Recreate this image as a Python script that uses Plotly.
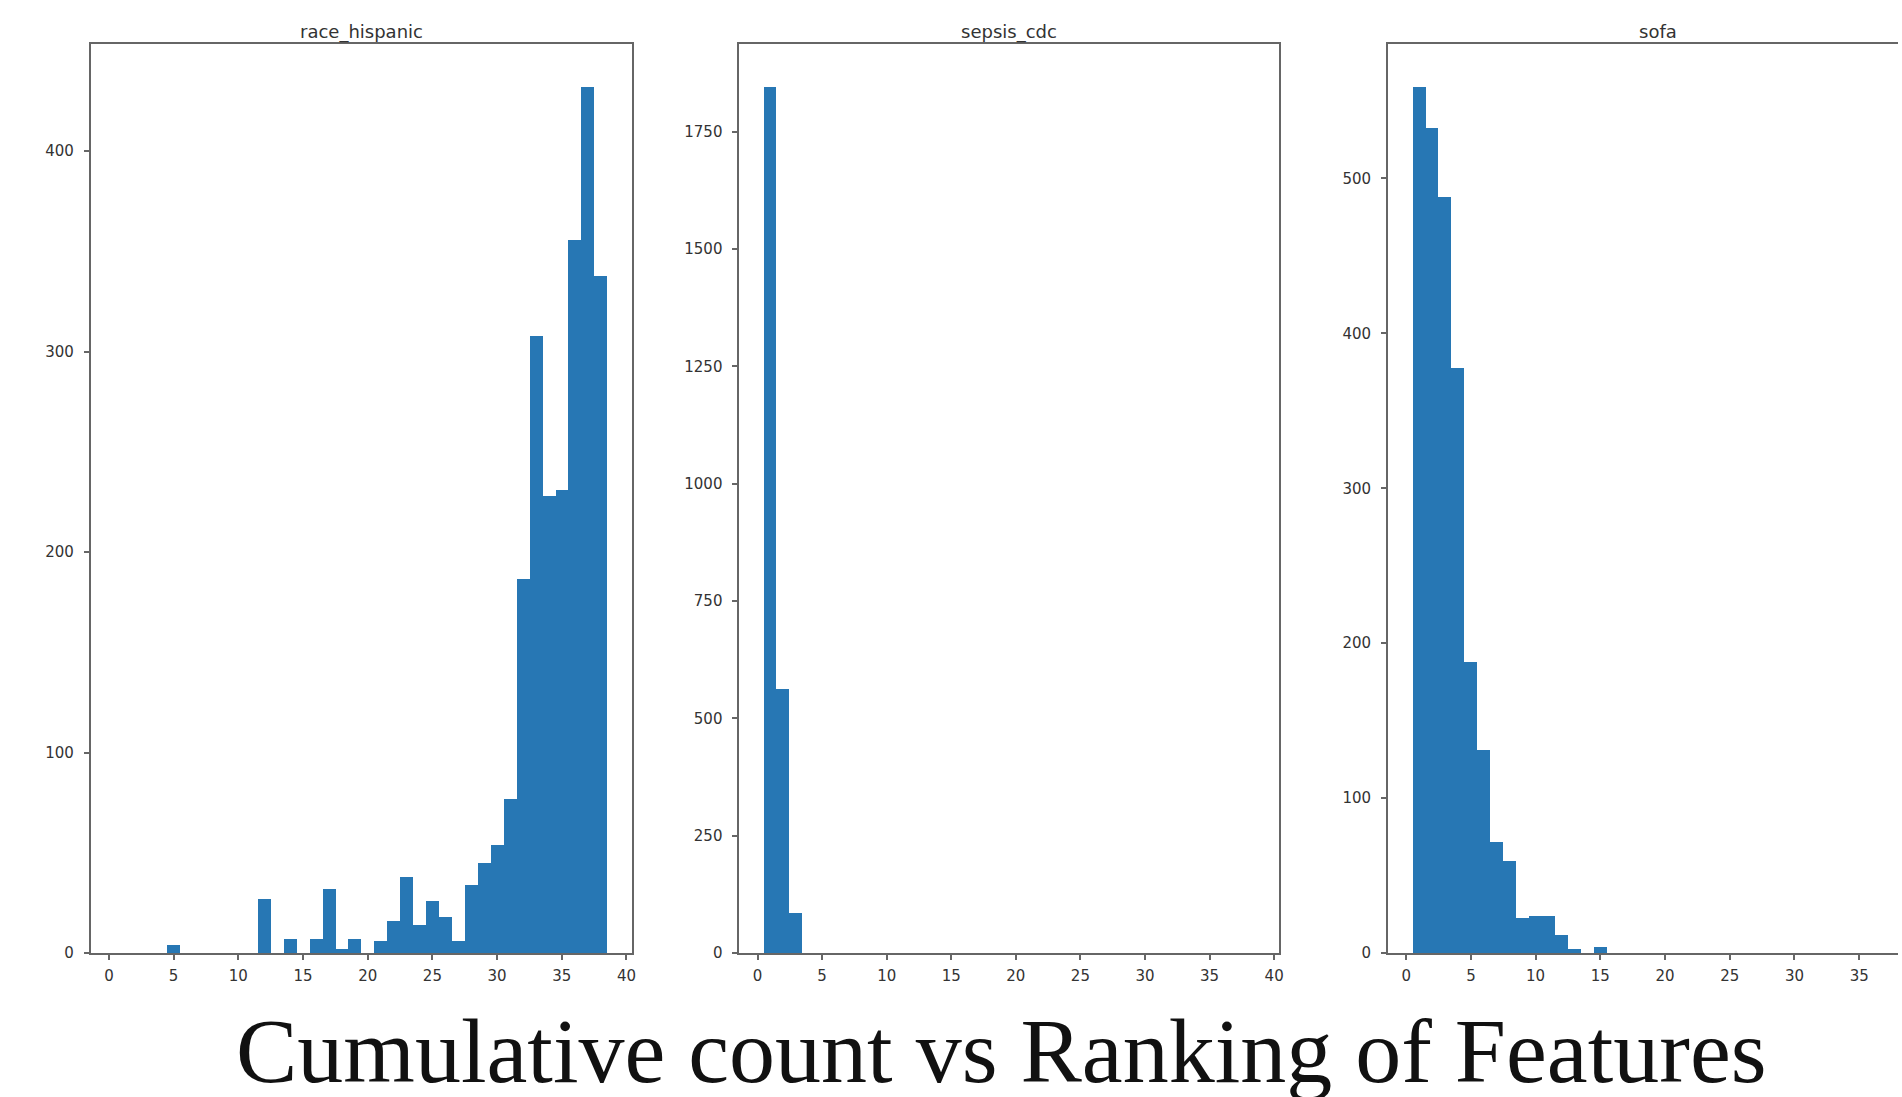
import plotly.graph_objects as go

# ---------------- data ----------------
panel_titles = ["race_hispanic", "sepsis_cdc", "sofa"]

race_hispanic_rank = list(range(1, 39))
race_hispanic_count = [0, 0, 0, 0, 4, 0, 0, 0, 0, 0,
                       0, 27, 0, 7, 0, 7, 32, 2, 7, 0,
                       6, 16, 38, 14, 26, 18, 6, 34, 45, 54,
                       77, 187, 308, 228, 231, 356, 432, 338]

sepsis_cdc_rank = [1, 2, 3]
sepsis_cdc_count = [1845, 564, 86]

sofa_rank = list(range(1, 16))
sofa_count = [559, 533, 488, 378, 188, 131, 72, 60, 23, 24, 24, 12, 3, 0, 4]

x_ticks_full = [0, 5, 10, 15, 20, 25, 30, 35, 40]
y_ticks_race = [0, 100, 200, 300, 400]
y_ticks_sepsis = [0, 250, 500, 750, 1000, 1250, 1500, 1750]
y_ticks_sofa = [0, 100, 200, 300, 400, 500]

main_title = "Cumulative count vs Ranking of Features"

# ---------------- layout constants ----------------
W, H = 1902, 1097
BAR = "#2777b4"
LINE = "#666666"
TICKFONT = dict(family="DejaVu Sans", size=15, color="#333333")


def px_x(p):
    return p / W


def px_y(p):
    return 1 - p / H


y_dom = [px_y(961), px_y(44)]
x_doms = [[px_x(91), px_x(633)], [px_x(741), px_x(1282)], [px_x(1391), 1.0]]

fig = go.Figure()

series = [
    (race_hispanic_rank, race_hispanic_count),
    (sepsis_cdc_rank, sepsis_cdc_count),
    (sofa_rank, sofa_count),
]
for i, (xs, ys) in enumerate(series):
    sfx = "" if i == 0 else str(i + 1)
    fig.add_trace(go.Bar(
        x=xs, y=ys, width=1.0,
        marker=dict(color=BAR, line=dict(width=0)),
        xaxis="x" + sfx, yaxis="y" + sfx, showlegend=False,
    ))

y_ranges = [[0, 432 * 1.05], [0, 1845 * 1.05], [0, 559 * 1.05]]
y_tickvals = [y_ticks_race, y_ticks_sepsis, y_ticks_sofa]
x_ranges = [[-1.4, 40.4], [-1.4, 40.4], [-1.4, 38.0]]

layout = dict(
    width=W, height=H,
    margin=dict(l=0, r=0, t=0, b=0),
    paper_bgcolor="white", plot_bgcolor="white",
    bargap=0,
    showlegend=False,
)

for i in range(3):
    sfx = "" if i == 0 else str(i + 1)
    layout["xaxis" + sfx] = dict(
        domain=x_doms[i], range=x_ranges[i], anchor="y" + sfx,
        tickmode="array", tickvals=x_ticks_full,
        ticktext=[str(v) for v in x_ticks_full],
        showgrid=False, zeroline=False,
        showline=True, linecolor=LINE, linewidth=2, mirror=True,
        ticks="outside", ticklen=5, tickwidth=1.5, tickcolor=LINE,
        tickfont=TICKFONT, ticklabelstandoff=3,
    )
    layout["yaxis" + sfx] = dict(
        domain=y_dom, range=y_ranges[i], anchor="x" + sfx,
        tickmode="array", tickvals=y_tickvals[i],
        ticktext=[str(v) for v in y_tickvals[i]],
        showgrid=False, zeroline=False,
        showline=True, linecolor=LINE, linewidth=2,
        mirror=(i < 2),
        ticks="outside", ticklen=5, tickwidth=1.5, tickcolor=LINE,
        tickfont=TICKFONT, ticklabelstandoff=7,
    )

annotations = []
centers = [(91 + 633) / 2, (741 + 1282) / 2, (1391 + 1932) / 2]
for t, cx in zip(panel_titles, centers):
    annotations.append(dict(
        text=t, x=px_x(cx), y=px_y(32), xref="paper", yref="paper",
        xanchor="center", yanchor="middle", showarrow=False,
        font=dict(family="DejaVu Sans", size=18, color="#333333"),
    ))
annotations.append(dict(
    text=main_title, x=px_x(1004), y=px_y(1006), xref="paper", yref="paper",
    xanchor="center", yanchor="top", showarrow=False,
    font=dict(family="Liberation Serif", size=92, color="#111111"),
))
layout["annotations"] = annotations

fig.update_layout(**layout)

fig.write_html(
    "out.html",
    config={"displayModeBar": False},
    post_script="document.body.style.margin='0';document.body.style.overflow='hidden';",
)
